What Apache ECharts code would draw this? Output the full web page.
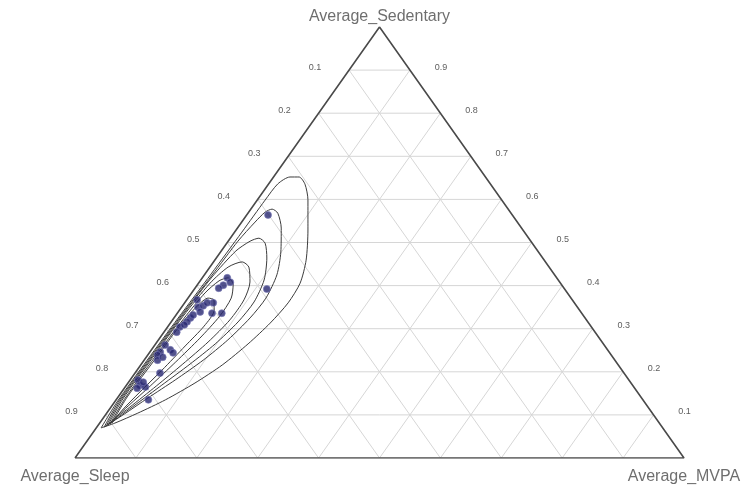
<!DOCTYPE html>
<html>
<head>
<meta charset="utf-8">
<script src="https://cdn.jsdelivr.net/npm/echarts@6/dist/echarts.min.js"></script>
<style>html,body{margin:0;padding:0;background:#fff;}#chart{width:753px;height:491px;}</style>
</head>
<body>
<div id="chart"></div>
<script>
// Components: [Average_Sleep, Average_Sedentary, Average_MVPA]
const vertexNames = ['Average_Sleep', 'Average_Sedentary', 'Average_MVPA'];
const gridLevels = [0.1, 0.2, 0.3, 0.4, 0.5, 0.6, 0.7, 0.8, 0.9];
const sleepTickLabels = ['0.1', '0.2', '0.3', '0.4', '0.5', '0.6', '0.7', '0.8', '0.9'];
const sedentaryTickLabels = ['0.9', '0.8', '0.7', '0.6', '0.5', '0.4', '0.3', '0.2', '0.1'];

// observed compositions [sleep, sedentary, mvpa]
const points = [
  [0.401,0.564,0.035],[0.489,0.392,0.119],[0.541,0.418,0.041],[0.556,0.401,0.043],
  [0.567,0.394,0.039],[0.616,0.367,0.017],[0.623,0.350,0.027],[0.613,0.353,0.034],
  [0.593,0.360,0.047],[0.607,0.336,0.057],[0.591,0.336,0.073],[0.625,0.339,0.036],
  [0.648,0.325,0.027],[0.658,0.316,0.026],[0.676,0.304,0.020],[0.687,0.292,0.021],
  [0.666,0.309,0.025],[0.737,0.246,0.017],[0.745,0.239,0.016],[0.718,0.251,0.031],
  [0.717,0.244,0.039],[0.751,0.227,0.022],[0.762,0.197,0.041],[0.806,0.181,0.013],
  [0.809,0.169,0.022],[0.802,0.165,0.033],[0.817,0.162,0.021],[0.812,0.135,0.053],
  [0.800,0.176,0.024],[0.721,0.262,0.017],[0.640,0.332,0.028],[0.541,0.408,0.051],
  [0.603,0.360,0.037],[0.739,0.234,0.027]
];

// density contours, outer to inner, [sleep, sedentary, mvpa]
const contour1 = [[0.923,0.070,0.008],[0.866,0.130,0.004],[0.768,0.227,0.005],[0.669,0.325,0.007],[0.563,0.427,0.010],[0.464,0.524,0.012],[0.389,0.599,0.013],[0.349,0.636,0.015],[0.321,0.652,0.027],[0.306,0.652,0.042],[0.305,0.636,0.060],[0.318,0.599,0.083],[0.353,0.529,0.118],[0.391,0.459,0.150],[0.428,0.406,0.167],[0.470,0.360,0.170],[0.523,0.313,0.164],[0.584,0.265,0.152],[0.651,0.216,0.134],[0.716,0.174,0.110],[0.785,0.135,0.081],[0.844,0.104,0.051],[0.894,0.081,0.025]];
const contour2 = [[0.917,0.072,0.012],[0.862,0.132,0.006],[0.764,0.230,0.007],[0.664,0.327,0.009],[0.563,0.425,0.013],[0.481,0.503,0.016],[0.431,0.548,0.022],[0.403,0.571,0.027],[0.388,0.578,0.035],[0.383,0.568,0.049],[0.395,0.534,0.072],[0.423,0.478,0.099],[0.456,0.425,0.119],[0.501,0.371,0.128],[0.550,0.325,0.125],[0.612,0.274,0.114],[0.676,0.227,0.097],[0.745,0.181,0.074],[0.810,0.139,0.050],[0.868,0.102,0.030]];
const contour3 = [[0.912,0.074,0.014],[0.857,0.135,0.008],[0.759,0.232,0.009],[0.660,0.329,0.011],[0.565,0.420,0.015],[0.495,0.480,0.024],[0.461,0.503,0.036],[0.443,0.510,0.047],[0.439,0.499,0.063],[0.453,0.464,0.083],[0.483,0.413,0.104],[0.525,0.362,0.113],[0.575,0.316,0.110],[0.638,0.265,0.098],[0.702,0.218,0.080],[0.772,0.169,0.058],[0.837,0.125,0.038],[0.885,0.093,0.023]];
const contour4 = [[0.908,0.077,0.016],[0.853,0.137,0.010],[0.755,0.234,0.011],[0.658,0.329,0.013],[0.575,0.406,0.019],[0.527,0.443,0.030],[0.498,0.455,0.047],[0.493,0.443,0.064],[0.508,0.408,0.083],[0.539,0.367,0.094],[0.585,0.320,0.094],[0.647,0.269,0.084],[0.714,0.218,0.068],[0.783,0.167,0.050],[0.851,0.118,0.031],[0.891,0.090,0.019]];
const contour5 = [[0.903,0.079,0.018],[0.848,0.139,0.013],[0.751,0.234,0.014],[0.659,0.325,0.017],[0.595,0.383,0.022],[0.558,0.411,0.031],[0.540,0.418,0.042],[0.539,0.404,0.058],[0.558,0.371,0.071],[0.597,0.329,0.073],[0.656,0.278,0.066],[0.723,0.223,0.054],[0.793,0.167,0.040],[0.853,0.121,0.027],[0.885,0.095,0.020]];
const contour6 = [[0.899,0.081,0.020],[0.844,0.142,0.015],[0.751,0.232,0.017],[0.668,0.313,0.019],[0.621,0.355,0.025],[0.596,0.371,0.033],[0.589,0.367,0.045],[0.600,0.343,0.057],[0.635,0.306,0.059],[0.689,0.260,0.051],[0.755,0.204,0.041],[0.817,0.153,0.030],[0.867,0.111,0.022]];
const contours = [contour1, contour2, contour3, contour4, contour5, contour6];

// ternary -> cartesian (x along base toward MVPA, y toward Sedentary)
function toXY(c) {
  const sum = c[0] + c[1] + c[2];
  const sed = c[1] / sum, mvpa = c[2] / sum;
  return [mvpa + sed / 2, sed];
}

const series = [];
const gridColor = '#d6d6d6';
// grid lines
gridLevels.forEach(function (v) {
  series.push({ type: 'line', data: [toXY([1 - v, v, 0]), toXY([0, v, 1 - v])] });   // constant sedentary
  series.push({ type: 'line', data: [toXY([v, 1 - v, 0]), toXY([v, 0, 1 - v])] });   // constant sleep
  series.push({ type: 'line', data: [toXY([1 - v, 0, v]), toXY([0, 1 - v, v])] });   // constant mvpa
});
series.forEach(function (s) {
  s.showSymbol = false; s.symbol = 'none'; s.silent = true; s.animation = false;
  s.lineStyle = { color: gridColor, width: 1 };
  s.z = 1;
});
// triangle outline
series.push({
  type: 'line', symbol: 'none', silent: true, animation: false, z: 3,
  lineStyle: { color: '#4a4a4a', width: 1.6 },
  data: [toXY([1, 0, 0]), toXY([0, 1, 0]), toXY([0, 0, 1]), toXY([1, 0, 0])]
});
// contours
contours.forEach(function (c) {
  const d = c.map(toXY);
  d.push(d[0]);
  series.push({
    type: 'line', symbol: 'none', smooth: 0.25, silent: true, animation: false, z: 4,
    lineStyle: { color: '#3c3c3c', width: 1 },
    data: d
  });
});
// points
series.push({
  type: 'scatter', symbol: 'circle', symbolSize: 7, z: 5, animation: false,
  itemStyle: { color: '#27276f', borderColor: '#7a7ab8', borderWidth: 0.8 },
  data: points.map(toXY)
});
// tick labels
const tickFont = { fontFamily: 'Liberation Sans', fontSize: 9, color: '#333' };
series.push({
  type: 'scatter', symbolSize: 0, silent: true, animation: false,
  label: Object.assign({ show: true, position: 'inside', offset: [-34, -3], formatter: function (p) { return p.data.name; } }, tickFont),
  data: gridLevels.map(function (v, i) { return { value: toXY([v, 1 - v, 0]), name: sleepTickLabels[i] }; })
});
series.push({
  type: 'scatter', symbolSize: 0, silent: true, animation: false,
  label: Object.assign({ show: true, position: 'inside', offset: [31, -3], formatter: function (p) { return p.data.name; } }, tickFont),
  data: gridLevels.map(function (v, i) { return { value: toXY([0, 1 - v, v]), name: sedentaryTickLabels[i] }; })
});
// vertex names
const vFont = { fontFamily: 'Liberation Sans', fontSize: 16, color: '#4a4a4a' };
series.push({
  type: 'scatter', symbolSize: 0, silent: true, animation: false,
  label: Object.assign({ show: true, position: 'inside', formatter: function (p) { return p.data.name; } }, vFont),
  data: [
    { value: toXY([1, 0, 0]), name: vertexNames[0], label: { offset: [0, 19] } },
    { value: toXY([0, 1, 0]), name: vertexNames[1], label: { offset: [0, -10] } },
    { value: toXY([0, 0, 1]), name: vertexNames[2], label: { offset: [0, 19] } }
  ]
});

const chart = echarts.init(document.getElementById('chart'), null, { renderer: 'canvas' });
chart.setOption({
  backgroundColor: '#ffffff',
  animation: false,
  grid: { left: 75, width: 609, top: 27, height: 431 },
  xAxis: { type: 'value', min: 0, max: 1, show: false },
  yAxis: { type: 'value', min: 0, max: 1, show: false },
  series: series
});
</script>
</body>
</html>
